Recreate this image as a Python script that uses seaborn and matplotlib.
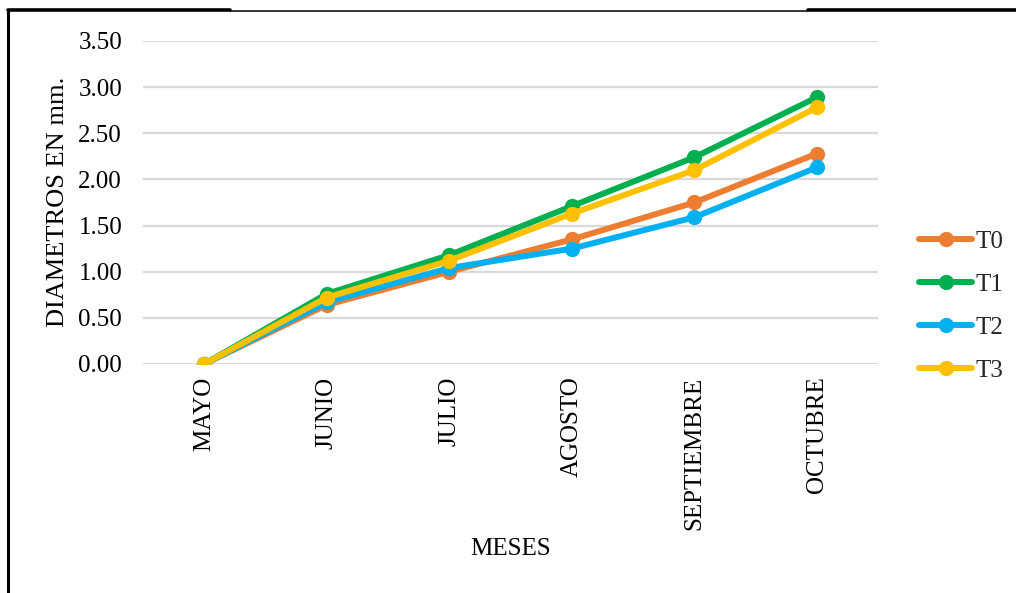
import matplotlib
matplotlib.use("Agg")
import matplotlib.pyplot as plt
from matplotlib.lines import Line2D
import pandas as pd
import seaborn as sns

meses = ["MAYO", "JUNIO", "JULIO", "AGOSTO", "SEPTIEMBRE", "OCTUBRE"]
t0 = [0.00, 0.64, 1.00, 1.35, 1.75, 2.28]
t1 = [0.00, 0.76, 1.18, 1.71, 2.24, 2.89]
t2 = [0.00, 0.67, 1.04, 1.25, 1.59, 2.13]
t3 = [0.00, 0.72, 1.12, 1.63, 2.10, 2.78]
tratamientos = ["T0", "T1", "T2", "T3"]
colores = ["#ED7D31", "#00B050", "#00B0F0", "#FFC000"]
y_ticks = [0.0, 0.5, 1.0, 1.5, 2.0, 2.5, 3.0, 3.5]

df = pd.DataFrame({
    "mes": meses * 4,
    "diametro": t0 + t1 + t2 + t3,
    "trat": [t for t in tratamientos for _ in meses],
})

sns.set_theme(style="white")
plt.rcParams["font.family"] = ["Liberation Serif", "DejaVu Serif"]

fig = plt.figure(figsize=(10.16, 5.93), dpi=100)
ax = fig.add_axes([0.1407, 0.3862, 0.7237, 0.5447])

sns.lineplot(data=df, x="mes", y="diametro", hue="trat",
             palette=dict(zip(tratamientos, colores)), hue_order=tratamientos,
             marker="o", markersize=11, markeredgewidth=0, linewidth=4.3,
             sort=False, ax=ax)

ax.set_xlim(-0.5, len(meses) - 0.5)
ax.set_ylim(0, 3.5)
ax.set_yticks(y_ticks)
ax.set_yticklabels([f"{v:.2f}" for v in y_ticks])
ax.yaxis.grid(True, color="#D9D9D9", linewidth=1.6)
ax.xaxis.grid(False)
ax.set_axisbelow(True)
for s in ax.spines.values():
    s.set_visible(False)
ax.tick_params(axis="both", length=0, labelsize=18, colors="black")
ax.tick_params(axis="y", pad=15)
ax.tick_params(axis="x", pad=9)
plt.setp(ax.get_xticklabels(), rotation=90, va="top", ha="center")

ax.set_xlabel("MESES", fontsize=18, color="black", va="center")
ax.xaxis.set_label_coords(0.5, -0.573)
ax.set_ylabel("DIAMETROS EN mm.", fontsize=19, color="black", va="center")
ax.yaxis.set_label_coords(-0.1156, 0.503)

leg = ax.legend(loc="center left", bbox_to_anchor=(1.056, 0.178), frameon=False,
                fontsize=18, handlelength=2.1, handletextpad=0.15,
                labelspacing=0.82, borderaxespad=0, borderpad=0)
for h in leg.legend_handles:
    h.set_linewidth(4.3)
    h.set_markersize(11)

# frame lines around the chart region
fig.add_artist(Line2D([0.0079, 0.0079], [0.0, 0.983], transform=fig.transFigure,
                      color="black", linewidth=2.2))
fig.add_artist(Line2D([0.0079, 0.2264], [0.983, 0.983], transform=fig.transFigure,
                      color="black", linewidth=2.6))
fig.add_artist(Line2D([0.2264, 0.7953], [0.982, 0.982], transform=fig.transFigure,
                      color="black", linewidth=1.1))
fig.add_artist(Line2D([0.7953, 1.0], [0.983, 0.983], transform=fig.transFigure,
                      color="black", linewidth=2.6))

fig.savefig("out.png", dpi=100)
